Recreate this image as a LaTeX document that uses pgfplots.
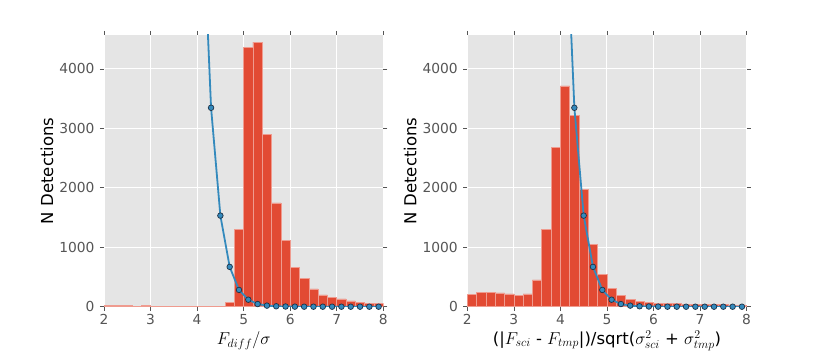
\documentclass[border=0pt]{standalone}
\usepackage{pgfplots}
\pgfplotsset{compat=1.18}
\usepackage{pgfplotstable}
\usepackage{fontspec}
\setmainfont{DejaVu Sans}
\definecolor{ggbg}{HTML}{E5E5E5}
\definecolor{ggred}{HTML}{E24A33}
\definecolor{ggblue}{HTML}{348ABD}
\definecolor{ggtick}{HTML}{555555}
\definecolor{mkedge}{HTML}{1E3246}

\pgfplotstableread{
x y
2.0 20
2.2 20
2.4 22
2.6 10
2.8 18
3.0 8
3.2 0
3.4 0
3.6 0
3.8 5
4.0 5
4.2 3
4.4 0
4.6 75
4.8 1300
5.0 4355
5.2 4450
5.4 2896
5.6 1746
5.8 1110
6.0 665
6.2 473
6.4 299
6.6 197
6.8 158
7.0 130
7.2 96
7.4 73
7.6 62
7.8 56
8.0 56
}\histA

\pgfplotstableread{
x y
2.0 208
2.2 242
2.4 242
2.6 231
2.8 214
3.0 192
3.2 214
3.4 451
3.6 1301
3.8 2682
4.0 3713
4.2 3217
4.4 1977
4.6 1054
4.8 546
5.0 304
5.2 192
5.4 124
5.6 90
5.8 73
6.0 62
6.2 56
6.4 56
6.6 45
6.8 39
7.0 39
7.2 39
7.4 34
7.6 28
7.8 28
8.0 28
}\histB

\pgfplotstableread{
x y
3.9 13700
4.1 7000
4.3 3346
4.5 1532
4.7 670
4.9 282
5.1 118
5.3 45
5.5 18
5.7 7
5.9 3
6.1 1
6.3 0
6.5 0
6.7 0
6.9 0
7.1 0
7.3 0
7.5 0
7.7 0
7.9 0
}\curve

\newcommand\tickfont{\fontsize{13.8bp}{16bp}\selectfont}
\newcommand\labfont{\fontsize{16.5bp}{19bp}\selectfont}

\pgfplotsset{
  ggstyle/.style={
    scale only axis,
    width=279.3bp, height=271.7bp,
    anchor=south west,
    xmin=2, xmax=8, ymin=0, ymax=4570,
    xtick={2,3,4,5,6,7,8},
    ytick={0,1000,2000,3000,4000},
    axis background/.style={fill=ggbg},
    axis line style={draw=none},
    grid=major,
    major grid style={white, line width=1bp},
    tick align=outside,
    tick pos=both,
    major tick length=4bp,
    tick style={ggtick, line width=0.6bp},
    scaled y ticks=false,
    xticklabel={\tickfont\pgfmathprintnumber[assume math mode=true]{\tick}},
    yticklabel={\tickfont\pgfmathprintnumber[assume math mode=true,1000 sep={}]{\tick}},
    every tick label/.append style={text=ggtick},
    yticklabel style={xshift=-2bp},
    ylabel={N Detections},
    ylabel style={font=\labfont, at={(axis description cs:-0.204,0.5)}, anchor=center},
    xlabel style={font=\labfont, at={(axis description cs:0.5,-0.125)}, anchor=center},
    clip=true,
  },
  histbar/.style={ybar interval, fill=ggred, draw=ggred!55!white, line width=0.6bp},
  curveline/.style={color=ggblue, line width=1.8bp, mark=*, mark size=2.8bp,
    mark options={fill=ggblue, draw=mkedge, line width=0.7bp}},
}

\begin{document}
\begin{tikzpicture}
\path[use as bounding box] (0,0) rectangle (830bp,351bp);
\begin{axis}[ggstyle, at={(104bp,44.3bp)}, xlabel={$F_{diff}/\sigma$}]
\addplot[histbar] table[x=x,y=y] {\histA};
\addplot[curveline] table[x=x,y=y] {\curve};
\end{axis}
\begin{axis}[ggstyle, at={(467.3bp,44.3bp)}, xlabel={(|$F_{sci}$ - $F_{tmp}$|)/sqrt($\sigma^2_{sci}$ + $\sigma^2_{tmp}$)}]
\addplot[histbar] table[x=x,y=y] {\histB};
\addplot[curveline] table[x=x,y=y] {\curve};
\end{axis}
\end{tikzpicture}
\end{document}
